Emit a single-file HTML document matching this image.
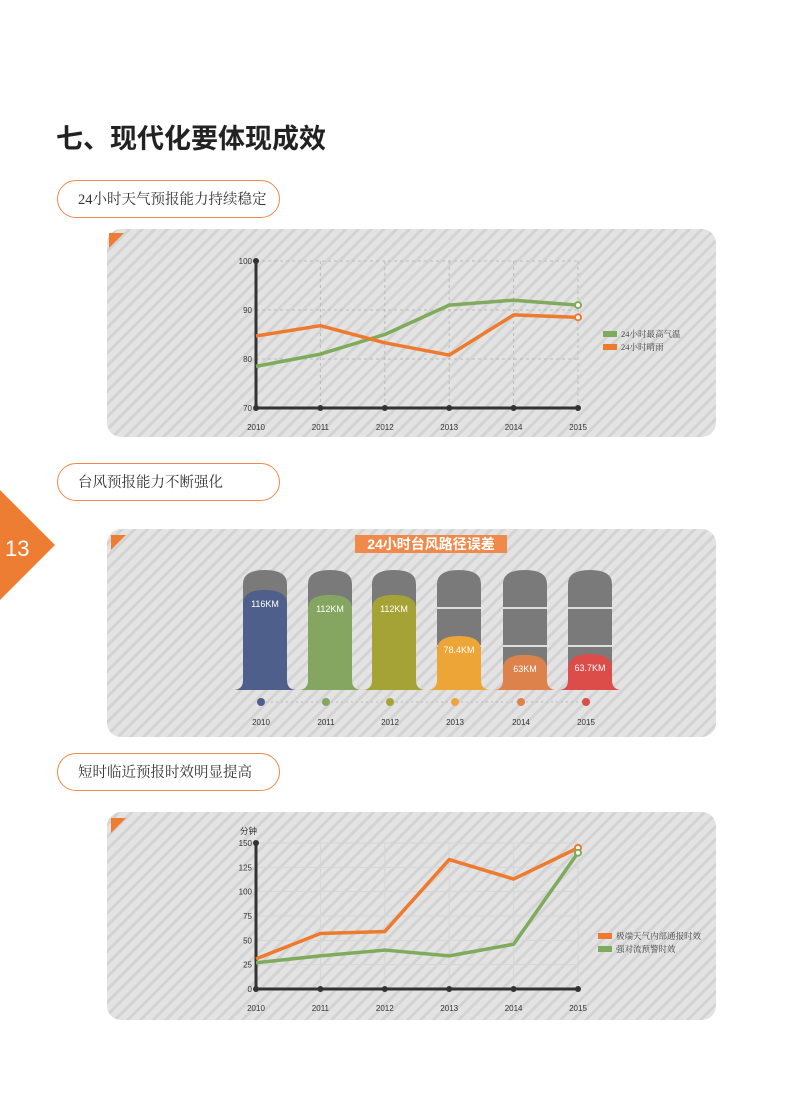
<!DOCTYPE html>
<html><head><meta charset="utf-8">
<style>
html,body{margin:0;padding:0;background:#fff;}
body{width:800px;height:1118px;position:relative;overflow:hidden;font-family:"Liberation Sans","Noto Sans CJK SC",sans-serif;}
.abs{position:absolute;}
.pill{position:absolute;left:57px;width:223px;height:38px;border:1.5px solid #ef8a4a;border-radius:19px;font-family:"Liberation Serif","Noto Serif CJK SC",serif;font-size:14.5px;color:#333;line-height:38px;padding-left:20px;box-sizing:border-box;}
</style></head>
<body>
<div class="abs" style="left:56px;top:117px;font-size:27px;font-weight:bold;color:#222;">七、现代化要体现成效</div>
<div class="pill" style="top:180px;">24小时天气预报能力持续稳定</div>
<div class="pill" style="top:463px;">台风预报能力不断强化</div>
<div class="pill" style="top:753px;">短时临近预报时效明显提高</div>

<svg class="abs" style="left:0;top:0" width="800" height="1118">
<defs>
<pattern id="st" patternUnits="userSpaceOnUse" width="9" height="9" patternTransform="rotate(-45)">
<rect width="9" height="9" fill="#e3e3e3"/><rect width="9" height="3" fill="#d3d3d3"/>
</pattern>
</defs>
<polygon points="0,490 0,600 55,545" fill="#ee7d34"/>
<text x="5" y="556" font-size="22" fill="#fff" font-family="Liberation Sans">13</text>
<g><rect x="107" y="229" width="609" height="208" rx="14" fill="url(#st)"/><polygon points="109,233 124,233 109,248" fill="#ee7d34"/></g>
<g><rect x="107" y="529" width="609" height="208" rx="14" fill="url(#st)"/><polygon points="111,535 126,535 111,550" fill="#ee7d34"/></g>
<g><rect x="107" y="812" width="609" height="208" rx="14" fill="url(#st)"/><polygon points="111,818 126,818 111,833" fill="#ee7d34"/></g>
<g id="c1"></g><g id="c2"></g><g id="c3"></g>
</svg>
<script>
const years=["2010","2011","2012","2013","2014","2015"];
const c1Ticks=[100,90,80,70];
const c1Green=[78.5,81,85,91,92,91];
const c1Orange=[84.7,86.8,83.3,80.8,89,88.5];
const c2Values=[116,112,112,78.4,63,63.7];
const c2Labels=["116KM","112KM","112KM","78.4KM","63KM","63.7KM"];
const c2Colors=["#4d5f8a","#84a661","#a6a336","#eda538","#de824b","#dc4d4a"];
const c3Ticks=[150,125,100,75,50,25,0];
const c3Orange=[31,57,59,133,113,145];
const c3Green=[27,34,40,34,46,140];
const NS="http://www.w3.org/2000/svg";
function mk(p,t,a){const e=document.createElementNS(NS,t);for(const k in a)e.setAttribute(k,a[k]);p.appendChild(e);return e;}
const xs=i=>256+i*64.4;
function lineChart(g,ticks,minV,maxV,yTop,yBot,series,cols,legends,legY,unit,dash,gridCol){
  const y=v=>yBot-(v-minV)/(maxV-minV)*(yBot-yTop);
  ticks.forEach(t=>{
    if(t!==minV){const l=mk(g,'line',{x1:256,x2:578,y1:y(t),y2:y(t),stroke:gridCol,'stroke-dasharray':dash});
    
    }
    const tx=mk(g,'text',{x:252,y:y(t)+3,'font-size':8,fill:'#333','text-anchor':'end'});tx.textContent=t;
    
    
  });
  years.forEach((yr,i)=>{
    if(i>0){const l=mk(g,'line',{x1:xs(i),x2:xs(i),y1:yTop,y2:yBot,stroke:gridCol,'stroke-dasharray':dash});
    
    }
    const t=mk(g,'text',{x:xs(i),y:yBot+22,'font-size':8,fill:'#333','text-anchor':'middle'});t.textContent=yr;
    
    
  });
  const ax=mk(g,'path',{d:`M256,${yTop} V${yBot} H${xs(5)}`,stroke:'#333','stroke-width':3,fill:'none'});
  
  
  mk(g,'circle',{cx:256,cy:yTop,r:3,fill:'#333'});
  years.forEach((yr,i)=>{const c=mk(g,'circle',{cx:xs(i),cy:yBot,r:3,fill:'#333'});
    
    });
  series.forEach((s,k)=>{
    const p=mk(g,'polyline',{points:s.map((v,i)=>xs(i)+','+y(v)).join(' '),stroke:cols[k],'stroke-width':3.5,fill:'none','stroke-linejoin':'round'});
    
    
    const e=mk(g,'circle',{cx:xs(5),cy:y(s[5]),r:3,fill:'#fff',stroke:cols[k],'stroke-width':2});
    
    
    const lr=mk(g,'rect',{x:legY.x,y:legY.y+k*13-3,width:14,height:6,fill:cols[k]});
    
    
    const lt=mk(g,'text',{x:legY.x+18,y:legY.y+k*13+3,'font-size':8.5,fill:'#444','font-family':'Liberation Serif, Noto Serif CJK SC, serif'});lt.textContent=legends[k];
    
    
  });
  if(unit){const u=mk(g,'text',{x:240,y:yTop-9,'font-size':8.5,fill:'#333'});u.textContent=unit;
    
    }
}
lineChart(document.getElementById('c1'),c1Ticks,70,100,261,408,[c1Green,c1Orange],['#7fab5c','#ee7a2e'],['24小时最高气温','24小时晴雨'],{x:603,y:334},null,'3,3','#bbb');
lineChart(document.getElementById('c3'),c3Ticks,0,150,843,989,[c3Orange,c3Green],['#ee7a2e','#7fab5c'],['极端天气内部通报时效','强对流预警时效'],{x:598,y:936},'分钟','none','#d6d6d6');
// chart 2
const g2=document.getElementById('c2');
const tb=mk(g2,'rect',{x:355,y:535,width:152,height:18,fill:'#f08a4b'});


const tt=mk(g2,'text',{x:431,y:549,'font-size':14,'font-weight':'bold',fill:'#fff','text-anchor':'middle'});tt.textContent='24小时台风路径误差';


const cx=[265,330,394,459,525,590];
const vy=v=>690-(v-34.4)*1.226;
mk(g2,'line',{x1:261,x2:590,y1:702,y2:702,stroke:'#bbb','stroke-dasharray':'2,3'});
c2Values.forEach((v,i)=>{
  const x=cx[i],w=44,top=570,bot=690;
  const col=mk(g2,'path',{d:`M${x-w/2},${bot} V${top+14} Q${x-w/2},${top} ${x},${top} Q${x+w/2},${top} ${x+w/2},${top+14} V${bot}Z`,fill:'#7a7a7a'});
  
  
  [608,646].forEach(s=>mk(g2,'line',{x1:x-w/2,x2:x+w/2,y1:s,y2:s,stroke:'#fff','stroke-width':1.5}));
  const yt=vy(v);
  const f=mk(g2,'path',{d:`M${x-w/2-10},${bot} Q${x-w/2},${bot} ${x-w/2},${bot-10} V${yt+14} Q${x-w/2},${yt} ${x},${yt} Q${x+w/2},${yt} ${x+w/2},${yt+14} V${bot-10} Q${x+w/2},${bot} ${x+w/2+10},${bot}Z`,fill:c2Colors[i]});
  
  
  const t=mk(g2,'text',{x:x,y:yt+17,'font-size':9,fill:'#fff','text-anchor':'middle'});t.textContent=c2Labels[i];
  
  
  const d=mk(g2,'circle',{cx:x-4,cy:702,r:4,fill:c2Colors[i]});
  
  
  const yl=mk(g2,'text',{x:x-4,y:725,'font-size':8,fill:'#333','text-anchor':'middle'});yl.textContent=years[i];
  
  
});
</script>
</body></html>
